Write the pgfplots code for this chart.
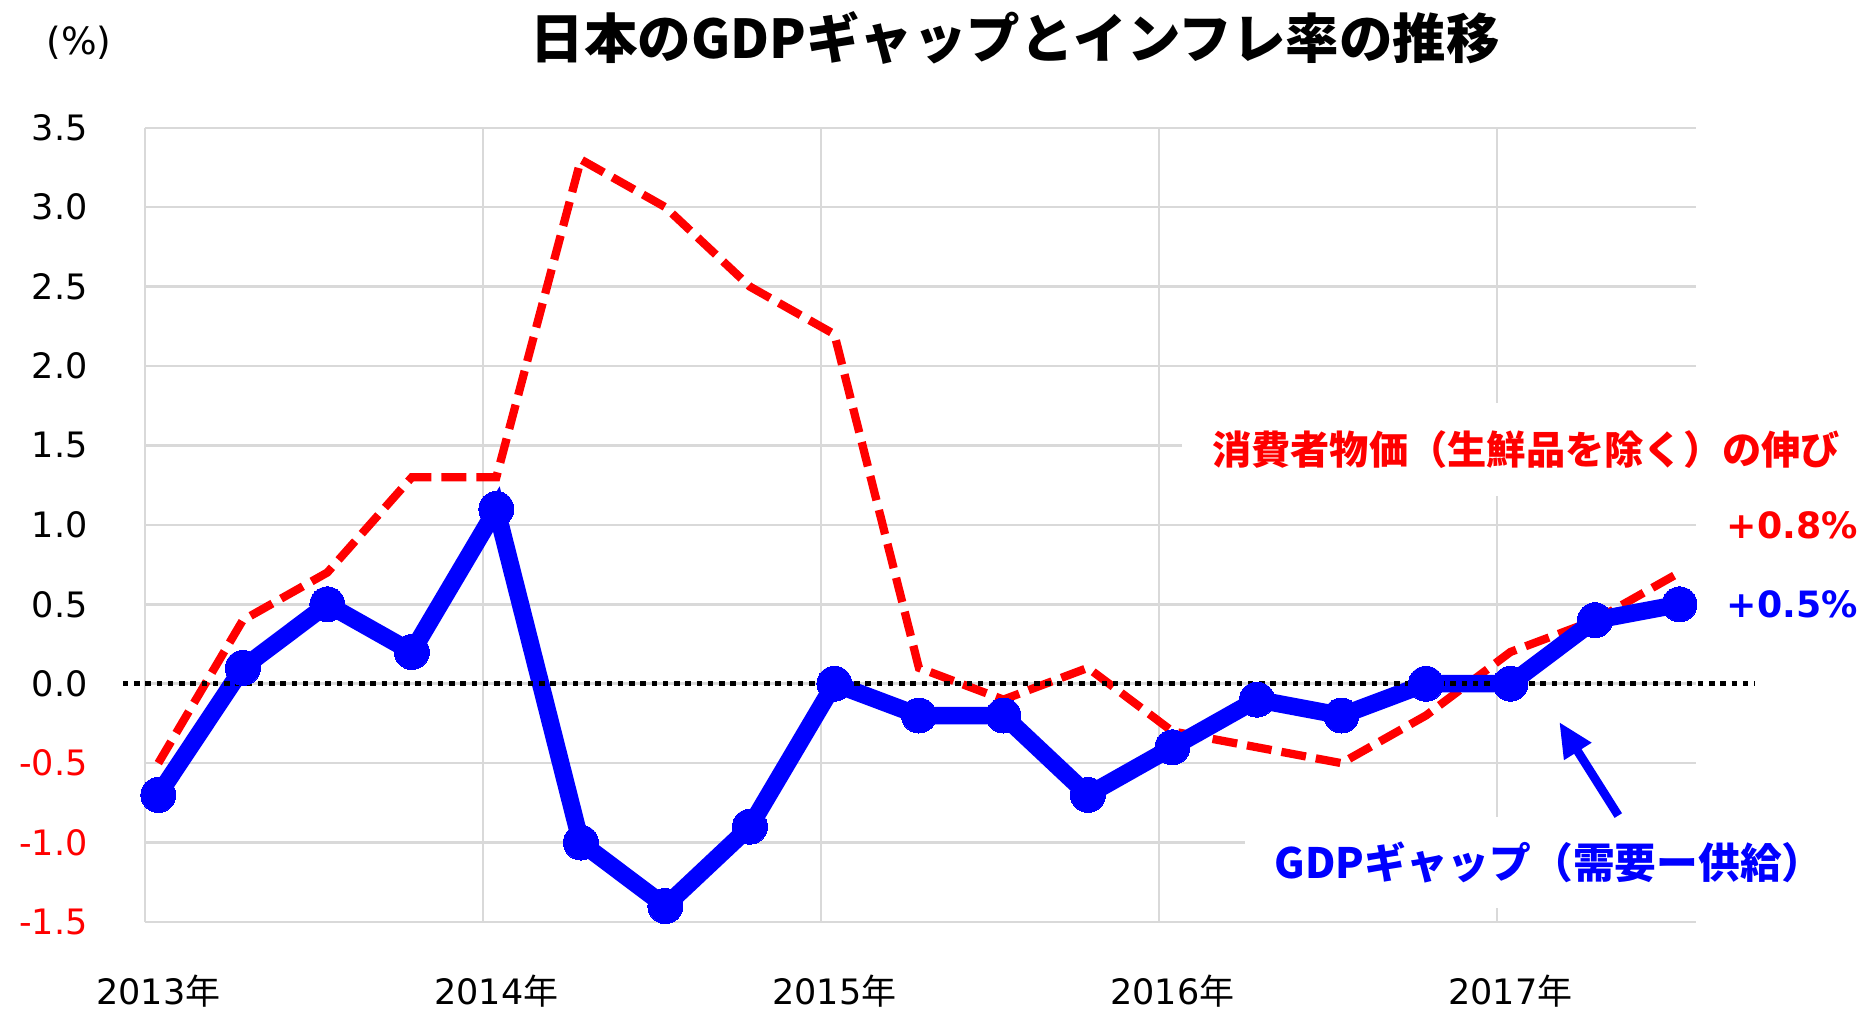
\documentclass[border=0pt]{standalone}
\usepackage{pgfplots}
\pgfplotsset{compat=1.18}
\usepackage{fontspec}
\setmainfont{DejaVu Sans}
\newfontfamily\jp{Noto Sans CJK JP}
\usetikzlibrary{arrows.meta}
\definecolor{gridgray}{HTML}{D9D9D9}
\begin{document}
\begin{tikzpicture}
\useasboundingbox (0,0) rectangle (749.2pt,404.8pt);
\begin{axis}[
  at={(57.92pt,36pt)}, anchor=south west,
  scale only axis, width=620.5pt, height=317.7pt,
  xmin=2013, xmax=2017.589, ymin=-1.5, ymax=3.5,
  axis line style={draw=none},
  xtick={2013,2014,2015,2016,2017}, xticklabels={},
  xmajorgrids, ymajorgrids,
  grid style={gridgray, line width=1pt},
  ytick={-1.5,-1,-0.5,0,0.5,1,1.5,2,2.5,3,3.5},
  yticklabels={{\color{red}-1.5},{\color{red}-1.0},{\color{red}-0.5},0.0,0.5,1.0,1.5,2.0,2.5,3.0,3.5},
  extra x ticks={2013.04,2014.04,2015.04,2016.04,2017.04},
  extra x tick labels={2013{\jp 年},2014{\jp 年},2015{\jp 年},2016{\jp 年},2017{\jp 年}},
  extra x tick style={grid=none},
  major tick length=0pt,
  xticklabel style={anchor=center, yshift=-27.6pt, inner sep=0pt, font=\fontsize{14}{16}\selectfont},
  yticklabel style={anchor=east, xshift=-22.7pt, inner sep=0pt, font=\fontsize{14}{16}\selectfont},
  clip=false,
]
\addplot[red, line width=3.3pt, dash pattern=on 10pt off 4pt] coordinates {
(2013.04,-0.5) (2013.29,0.4) (2013.54,0.7) (2013.79,1.3) (2014.04,1.3) (2014.29,3.3) (2014.54,3.0) (2014.79,2.5) (2015.04,2.2) (2015.29,0.1) (2015.54,-0.1) (2015.79,0.1) (2016.04,-0.3) (2016.29,-0.4) (2016.54,-0.5) (2016.79,-0.2) (2017.04,0.2) (2017.29,0.4) (2017.54,0.7)
};
\addplot[blue, line width=7pt, mark=*, mark size=7pt, mark options={solid, fill=blue, line width=0pt}] coordinates {
(2013.04,-0.7) (2013.29,0.1) (2013.54,0.5) (2013.79,0.2) (2014.04,1.1) (2014.29,-1.0) (2014.54,-1.4) (2014.79,-0.9) (2015.04,0.0) (2015.29,-0.2) (2015.54,-0.2) (2015.79,-0.7) (2016.04,-0.4) (2016.29,-0.1) (2016.54,-0.2) (2016.79,0.0) (2017.04,0.0) (2017.29,0.4) (2017.54,0.5)
};
\addplot[black, line width=2.2pt, dash pattern=on 2.2pt off 2.3pt] coordinates {(2012.935,0) (2017.764,0)};
\node[font=\jp\bfseries\fontsize{21.4}{24}\selectfont, anchor=center] at (axis cs:2015.575,4.067) {日本のGDPギャップとインフレ率の推移};
\node[font=\fontsize{15}{17}\selectfont] at (axis cs:2012.805,4.036) {(\%)};
\node[fill=white, text=red, font=\jp\bfseries\fontsize{15.7}{17}\selectfont, inner xsep=12pt, inner ysep=11pt] at (axis cs:2017.086,1.473) {消費者物価（生鮮品を除く）の伸び};
\node[text=red, anchor=west, inner sep=0pt, font=\bfseries\fontsize{14.5}{16}\selectfont] at (axis cs:2017.678,1.0) {+0.8\%};
\node[text=blue, anchor=west, inner sep=0pt, font=\bfseries\fontsize{14.5}{16}\selectfont] at (axis cs:2017.678,0.5) {+0.5\%};
\node[fill=white, text=blue, font=\jp\bfseries\fontsize{16.7}{18}\selectfont, inner xsep=12pt, inner ysep=10pt] at (axis cs:2017.154,-1.127) {GDPギャップ（需要ー供給）};
\draw[blue, line width=3.5pt, -{Triangle[length=14pt,width=12pt]}] (axis cs:2017.359,-0.83) -- (axis cs:2017.184,-0.24);
\end{axis}
\end{tikzpicture}
\end{document}
